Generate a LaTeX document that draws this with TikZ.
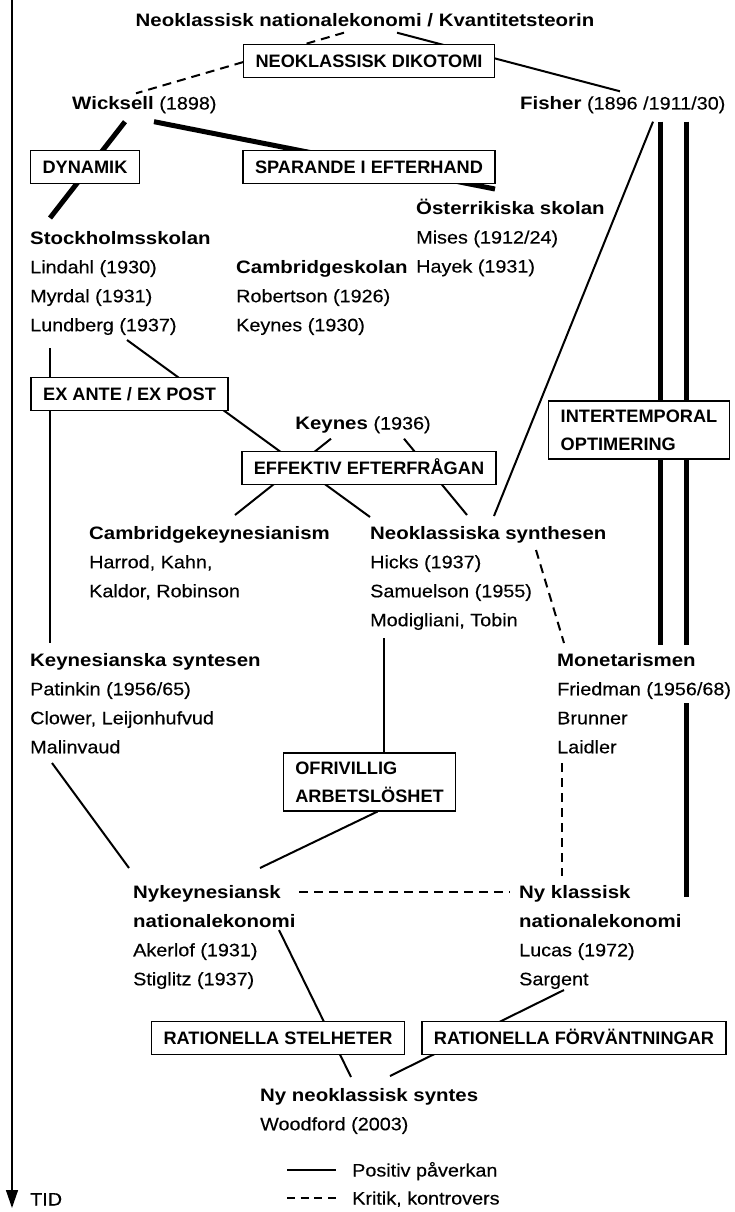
\documentclass[tikz,border=0pt]{standalone}
\usepackage{fontspec}
\setmainfont{Liberation Sans}[UprightFeatures={FakeStretch=1.1,FakeBold=0.3},BoldFeatures={FakeStretch=1.135}]
\newfontfamily\boxfont{Liberation Sans}[BoldFeatures={FakeStretch=1.01}]
\usetikzlibrary{calc,arrows.meta}

\newcommand{\txtfont}{\fontsize{18}{29}\selectfont}
\newcommand{\boxfnt}{\boxfont\bfseries\fontsize{18}{28}\selectfont}

\begin{document}
\begin{tikzpicture}[x=1pt, y=-1pt,
    txt/.style={inner sep=0pt, text height=13pt, text depth=0pt, font=\txtfont},
    school/.style={inner sep=0pt, anchor=north west, align=left, font=\txtfont},
    lbox/.style={draw, line width=1.3pt, fill=white, inner xsep=12pt, inner ysep=10pt,
        text height=13pt, text depth=0pt, font=\boxfnt},
    mbox/.style={draw, line width=1.3pt, fill=white, inner xsep=12pt, inner ysep=8.5pt,
        align=left, font=\boxfnt},
    infl/.style={line width=2pt},
    heavy/.style={line width=5pt},
    crit/.style={line width=2pt, dash pattern=on 9pt off 6pt}]
    \useasboundingbox (0,0) rectangle (734,1212);

    % schools and people
    \node[txt, font=\txtfont\bfseries] (title) at (365,20) {Neoklassisk nationalekonomi / Kvantitetsteorin};
    \node[txt, anchor=west] (wick) at (72,103) {\textbf{Wicksell} (1898)};
    \node[txt, anchor=west] (fisher) at (520,103) {\textbf{Fisher} (1896 /1911/30)};
    \node[school] (oster) at (416,199) {\textbf{Österrikiska skolan}\\Mises (1912/24)\\Hayek (1931)};
    \node[school] (stock) at (30,231) {\textbf{Stockholmsskolan}\\Lindahl (1930)\\Myrdal (1931)\\Lundberg (1937)};
    \node[school] (camb) at (236,260) {\textbf{Cambridgeskolan}\\Robertson (1926)\\Keynes (1930)};
    \node[txt] (keyn) at (363,423) {\textbf{Keynes} (1936)};
    \node[school] (ckeyn) at (89,526) {\textbf{Cambridgekeynesianism}\\Harrod, Kahn,\\Kaldor, Robinson};
    \node[school] (neosyn) at (370,526) {\textbf{Neoklassiska synthesen}\\Hicks (1937)\\Samuelson (1955)\\Modigliani, Tobin};
    \node[school] (keynsyn) at (30,653) {\textbf{Keynesianska syntesen}\\Patinkin (1956/65)\\Clower, Leijonhufvud\\Malinvaud};
    \node[school] (monet) at (557,653) {\textbf{Monetarismen}\\Friedman (1956/68)\\Brunner\\Laidler};
    \node[school] (nyk) at (133,885) {\textbf{Nykeynesiansk}\\\textbf{nationalekonomi}\\Akerlof (1931)\\Stiglitz (1937)};
    \node[school] (nyklass) at (519,885) {\textbf{Ny klassisk}\\\textbf{nationalekonomi}\\Lucas (1972)\\Sargent};
    \node[school] (nyneo) at (260,1088) {\textbf{Ny neoklassisk syntes}\\Woodford (2003)};
    \node[mbox] (ofriv) at (369.5,782) {OFRIVILLIG\\ARBETSLÖSHET};

    % influences
    \draw[crit] ($(title.south)+(-21,6)$) -- ($(wick.north west)+(64,-3)$);
    \draw[infl] ($(title.south)+(32,6)$) -- ($(fisher.north west)+(100,-5)$);
    \draw[heavy] ($(wick.south west)+(53,12)$) -- ($(stock.north west)+(20,-13)$);
    \draw[heavy] ($(wick.south west)+(82,12)$) -- ($(oster.north west)+(79,-10)$);
    \draw[infl] ($(fisher.south west)+(133,12)$) -- ($(neosyn.north west)+(124,-10)$);
    \draw[heavy] ($(fisher.south west)+(140,12)$) -- ($(monet.north west)+(103,-8)$);
    \draw[heavy] ($(fisher.south west)+(166,12)$) -- ($(monet.north west)+(129,-8)$);
    \draw[heavy] ($(monet.north west)+(129,50)$) -- ($(nyklass.north west)+(167,12)$);
    \draw[infl] ($(stock.north west)+(97,109)$) -- ($(neosyn.north west)+(0,-9)$);
    \draw[infl] ($(stock.north west)+(20,117)$) -- ($(keynsyn.north west)+(20,-10)$);
    \draw[infl] ($(keyn.south)+(-32,9)$) -- ($(ckeyn.north west)+(146,-11)$);
    \draw[infl] ($(keyn.south)+(41,9)$) -- ($(neosyn.north west)+(97,-11)$);
    \draw[crit] ($(neosyn.north west)+(166,24)$) -- ($(monet.north west)+(7,-10)$);
    \draw[infl] ($(neosyn.north west)+(14,112)$) -- ($(ofriv.north)+(14.5,0)$);
    \draw[infl] ($(keynsyn.north west)+(22,110)$) -- ($(nyk.north west)+(-4,-17)$);
    \draw[infl] ($(ofriv.south)+(8,0)$) -- ($(nyk.north west)+(127,-17)$);
    \draw[crit] ($(monet.north west)+(5,110)$) -- ($(nyklass.north west)+(43,-9)$);
    \draw[crit] ($(nyk.north west)+(166,7)$) -- ($(nyklass.north west)+(-9,7)$);
    \draw[infl] ($(nyk.north west)+(146,45)$) -- ($(nyneo.north west)+(91,-11)$);
    \draw[infl] ($(nyklass.north west)+(45,105)$) -- ($(nyneo.north west)+(130,-12)$);

    % concepts on top of the lines
    \node[lbox] (neok) at (369,61) {NEOKLASSISK DIKOTOMI};
    \node[lbox] (dyn) at (85,167) {DYNAMIK};
    \node[lbox] (spar) at (369,167) {SPARANDE I EFTERHAND};
    \node[lbox] (exante) at (129.5,394) {EX ANTE / EX POST};
    \node[mbox] (inter) at (639,430) {INTERTEMPORAL\\OPTIMERING};
    \node[lbox] (effekt) at (369,468) {EFFEKTIV EFTERFRÅGAN};
    \node[lbox] (stel) at (278,1038) {RATIONELLA STELHETER};
    \node[lbox] (forv) at (574,1038) {RATIONELLA FÖRVÄNTNINGAR};

    % legend and time axis
    \node[txt, anchor=west] (lpos) at (352,1170) {Positiv påverkan};
    \node[txt, anchor=west] (lneg) at (352,1198) {Kritik, kontrovers};
    \draw[infl] ($(lpos.west)+(-65,0)$) -- ($(lpos.west)+(-16,0)$);
    \draw[infl, dash pattern=on 8pt off 5.67pt] ($(lneg.west)+(-65,0)$) -- ($(lneg.west)+(-16,0)$);
    \node[txt, anchor=west] (tid) at (30,1199) {TID};
    \coordinate (ttop) at (12,0);
    \draw[line width=1.4pt, -{Triangle[width=12pt,length=18pt]}] (ttop) -- ($(tid.west)+(-18,9)$);
\end{tikzpicture}
\end{document}
